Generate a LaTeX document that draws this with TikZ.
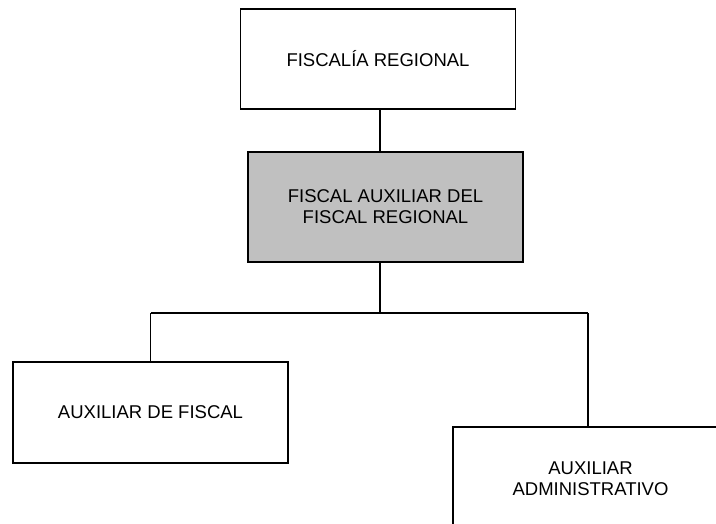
\documentclass[tikz,border=0pt]{standalone}
\usepackage{fontspec}
\setmainfont{Liberation Sans}
\usepackage{tikz}
\usetikzlibrary{positioning}
\definecolor{boxgray}{RGB}{192,192,192}

\begin{document}
\begin{tikzpicture}[x=1pt, y=-1pt,
        office/.style={draw, line width=1.1pt, minimum width=275pt, align=center,
            font=\fontsize{18.5}{21}\selectfont},
        link/.style={line width=1.3pt}]
        \useasboundingbox (0,0) rectangle (716,523);

        \node[office, minimum height=100pt] (regional) at (378,59) {FISCALÍA REGIONAL};
        \node[office, minimum height=110pt, fill=boxgray] (auxfiscal) at (385.5,207) {FISCAL AUXILIAR DEL\\FISCAL REGIONAL};
        \node[office, minimum height=101pt] (auxiliar) at (150.5,412.5) {AUXILIAR DE FISCAL};
        \node[office, minimum height=104pt] (admin) at (590.5,479) {AUXILIAR\\ADMINISTRATIVO};

        \coordinate (bus) at (380,313);
        \coordinate (busright) at (588,313);

        %regional to fiscal auxiliar
        \draw[link] (regional.south -| bus) -- (auxfiscal.north -| bus);

        %fiscal auxiliar down to bus
        \draw[link] (auxfiscal.south -| bus) -- (bus);

        %bus across
        \draw[link] (auxiliar.north |- bus) -- (busright);

        %bus to auxiliar de fiscal
        \draw[link] (auxiliar.north |- bus) -- (auxiliar.north);

        %bus to auxiliar administrativo
        \draw[link] (busright) -- (busright |- admin.north);
    \end{tikzpicture}
\end{document}
